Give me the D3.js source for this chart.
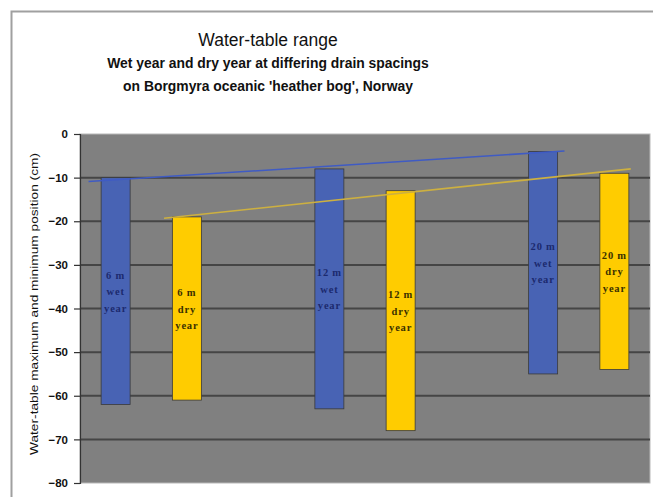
<!DOCTYPE html>
<html>
<head>
<meta charset="utf-8">
<script src="https://cdn.jsdelivr.net/npm/d3@7"></script>
<style>
  html, body { margin: 0; padding: 0; background: #ffffff; }
  svg { display: block; font-family: "Liberation Sans", Arial, sans-serif; }
</style>
</head>
<body>
<svg id="chart" width="653" height="497"></svg>
<script>
// ---- data ----
const slots = ["s0", "s1", "gapA", "s3", "s4", "gapB", "s6", "s7"];
const barSlots = ["s0", "s1", "s3", "s4", "s6", "s7"];
const barLabels = [["6 m", "wet", "year"], ["6 m", "dry", "year"], ["12 m", "wet", "year"], ["12 m", "dry", "year"], ["20 m", "wet", "year"], ["20 m", "dry", "year"]];
const barKinds = ["wet", "dry", "wet", "dry", "wet", "dry"];
const topValues = [-10, -19, -8, -13, -4, -9];
const bottomValues = [-62, -61, -63, -68, -55, -54];
const yTicks = [0, -10, -20, -30, -40, -50, -60, -70, -80];
const wetTrendSlot = [-0.38, 6.3];
const wetTrendValue = [-10.9, -3.9];
const dryTrendSlot = [0.68, 7.23];
const dryTrendValue = [-19.3, -8.0];

const titleText = "Water-table range";
const subtitleLines = ["Wet year and dry year at differing drain spacings", "on Borgmyra oceanic 'heather bog', Norway"];
const yTitle = "Water-table maximum and minimum position (cm)";

// ---- layout ----
const svg = d3.select("#chart");
const plot = { left: 80, right: 650, top: 134, bottom: 483 };
const colors = { wet: "#4863b4", dry: "#ffcc00" };
const textColors = { wet: "#1c2a6e", dry: "#3a3000" };

// frame
svg.append("rect").attr("x", 11.5).attr("y", 11.5).attr("width", 700).attr("height", 600)
  .attr("fill", "#ffffff").attr("stroke", "#a0a0a0").attr("stroke-width", 2);

// titles
svg.append("text").attr("x", 268).attr("y", 46).attr("text-anchor", "middle")
  .attr("font-size", 17.5).attr("fill", "#111").text(titleText);
subtitleLines.forEach((t, i) => {
  svg.append("text").attr("x", 268).attr("y", 68 + i * 23).attr("text-anchor", "middle")
    .attr("font-size", 13.9).attr("font-weight", "bold").attr("fill", "#111").text(t);
});

// scales
const x = d3.scaleBand().domain(slots).range([plot.left, plot.right]).paddingInner(0.593).paddingOuter(0.2965);
const xs = d3.scaleLinear().domain([-0.5, slots.length - 0.5]).range([plot.left, plot.right]);
const y = d3.scaleLinear().domain([-80, 0]).range([plot.bottom, plot.top]);

// plot background
svg.append("rect").attr("x", plot.left).attr("y", plot.top)
  .attr("width", plot.right - plot.left).attr("height", plot.bottom - plot.top)
  .attr("fill", "#808080").attr("stroke", "#b8b8b8").attr("stroke-width", 1);

// gridlines
svg.append("g").selectAll("line").data(yTicks.filter(v => v !== 0 && v !== -80)).join("line")
  .attr("x1", plot.left).attr("x2", plot.right)
  .attr("y1", d => y(d)).attr("y2", d => y(d))
  .attr("stroke", "#454545").attr("stroke-width", 2);

// y axis
const yAxis = d3.axisLeft(y).tickValues(yTicks).tickSize(6).tickPadding(6).tickFormat(d3.format("d"));
const gy = svg.append("g").attr("transform", `translate(${plot.left},0)`).call(yAxis);
gy.attr("font-family", null).attr("font-size", null);
gy.select(".domain").attr("stroke", "#333").attr("stroke-width", 1.2);
gy.selectAll(".tick line").attr("stroke", "#333").attr("stroke-width", 1.2);
gy.selectAll(".tick text").attr("font-size", 11.5).attr("font-weight", "bold").attr("fill", "#111");

// y title
svg.append("text")
  .attr("transform", `translate(38,${(153 + 455) / 2}) rotate(-90)`)
  .attr("text-anchor", "middle").attr("font-size", 11.5).attr("fill", "#111")
  .attr("textLength", 302).attr("lengthAdjust", "spacingAndGlyphs")
  .text(yTitle);

// bars
const bars = barSlots.map((s, i) => ({ slot: s, top: topValues[i], bottom: bottomValues[i], kind: barKinds[i], label: barLabels[i] }));
svg.append("g").selectAll("rect").data(bars).join("rect")
  .attr("x", d => x(d.slot)).attr("width", x.bandwidth())
  .attr("y", d => y(d.top)).attr("height", d => y(d.bottom) - y(d.top))
  .attr("fill", d => colors[d.kind]).attr("stroke", "#3a3a3a").attr("stroke-width", 0.8);

// bar labels
const lab = svg.append("g").style("font-family", "'Liberation Serif', 'Times New Roman', serif");
bars.forEach(d => {
  const cx = x(d.slot) + x.bandwidth() / 2;
  const cy = (y(d.top) + y(d.bottom)) / 2;
  d.label.forEach((t, j) => {
    lab.append("text").attr("x", cx).attr("y", cy + (j - 1) * 16.5 + 4)
      .attr("text-anchor", "middle").attr("font-size", 10.5).attr("font-weight", "bold")
      .attr("letter-spacing", 0.8)
      .attr("fill", textColors[d.kind]).text(t);
  });
});

// trend lines
const line = d3.line().x(d => xs(d[0])).y(d => y(d[1]));
svg.append("path").datum(d3.zip(wetTrendSlot, wetTrendValue)).attr("d", line)
  .attr("fill", "none").attr("stroke", "#3f5bc4").attr("stroke-width", 1.6);
svg.append("path").datum(d3.zip(dryTrendSlot, dryTrendValue)).attr("d", line)
  .attr("fill", "none").attr("stroke", "#cdb040").attr("stroke-width", 1.6);
</script>
</body>
</html>
